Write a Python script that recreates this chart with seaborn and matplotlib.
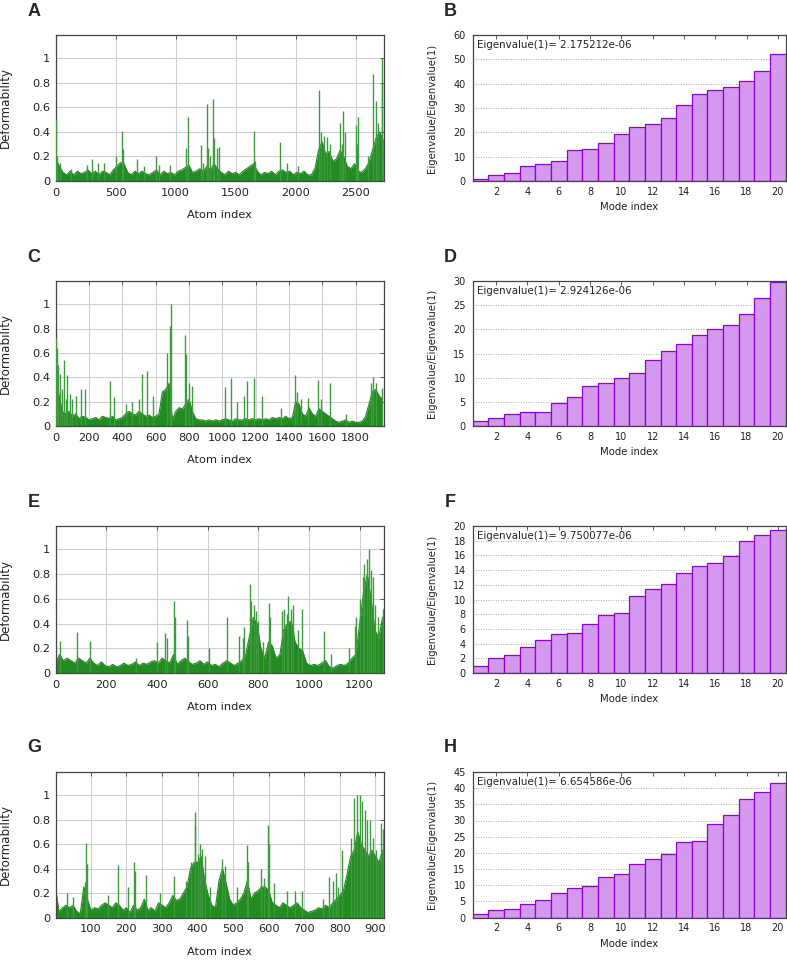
import numpy as np
import matplotlib
matplotlib.use('Agg')
import matplotlib.pyplot as plt
import seaborn as sns

sns.set_theme(style='white')
plt.rcParams['font.family'] = ['DejaVu Sans']

GREEN = '#228B22'
SPIKE = '#3f9a3f'
FILL = '#d499ee'
EDGE = '#9400d3'
FRAME = '#444444'

# ---- deformability (baseline read every `step` atoms + individual spikes) ----
a_step = 30
a_base = [0.18, 0.12, 0.07, 0.05, 0.08, 0.05, 0.08, 0.06, 0.07, 0.09,
          0.06, 0.08, 0.05, 0.08, 0.07, 0.05, 0.09, 0.12, 0.15, 0.14,
          0.07, 0.05, 0.08, 0.06, 0.08, 0.06, 0.05, 0.07, 0.09, 0.05,
          0.08, 0.06, 0.07, 0.05, 0.08, 0.09, 0.11, 0.13, 0.07, 0.08,
          0.10, 0.08, 0.12, 0.09, 0.14, 0.10, 0.07, 0.05, 0.08, 0.06,
          0.07, 0.05, 0.08, 0.10, 0.12, 0.14, 0.08, 0.05, 0.07, 0.06,
          0.08, 0.05, 0.08, 0.09, 0.07, 0.08, 0.05, 0.07, 0.06, 0.08,
          0.05, 0.05, 0.10, 0.25, 0.32, 0.22, 0.24, 0.16, 0.18, 0.25,
          0.20, 0.12, 0.10, 0.14, 0.08, 0.07, 0.10, 0.15, 0.25, 0.35,
          0.40, 0.33]
a_px = [3, 15, 40, 130, 265, 300, 350, 405, 500, 553, 560, 680, 735, 835, 860,
        950, 1090, 1104, 1210, 1230, 1262, 1270, 1290, 1312, 1320, 1345, 1360,
        1650, 1660, 1868, 1930, 2020, 2195, 2215, 2235, 2262, 2290, 2370, 2385,
        2398, 2410, 2500, 2510, 2518, 2600, 2645, 2670, 2690, 2716, 2722]
a_py = [0.50, 0.20, 0.15, 0.10, 0.13, 0.18, 0.15, 0.15, 0.20, 0.41, 0.26, 0.18,
        0.12, 0.20, 0.13, 0.13, 0.27, 0.52, 0.29, 0.15, 0.63, 0.27, 0.20, 0.67,
        0.35, 0.27, 0.28, 0.41, 0.16, 0.32, 0.15, 0.12, 0.74, 0.40, 0.37, 0.36,
        0.30, 0.47, 0.30, 0.57, 0.40, 0.46, 0.30, 0.52, 0.20, 0.87, 0.65, 0.47,
        1.00, 0.80]

c_step = 20
c_base = [0.35, 0.25, 0.12, 0.10, 0.12, 0.08, 0.10, 0.06, 0.08, 0.07,
          0.05, 0.06, 0.07, 0.05, 0.08, 0.07, 0.06, 0.08, 0.05, 0.06,
          0.07, 0.10, 0.12, 0.10, 0.09, 0.12, 0.10, 0.08, 0.09, 0.07,
          0.08, 0.10, 0.28, 0.30, 0.35, 0.05, 0.12, 0.15, 0.14, 0.18,
          0.22, 0.12, 0.06, 0.05, 0.05, 0.04, 0.05, 0.04, 0.05, 0.04,
          0.05, 0.06, 0.05, 0.04, 0.06, 0.05, 0.05, 0.06, 0.05, 0.06,
          0.05, 0.06, 0.05, 0.06, 0.05, 0.07, 0.06, 0.07, 0.06, 0.08,
          0.06, 0.07, 0.20, 0.18, 0.10, 0.08, 0.15, 0.10, 0.08, 0.14,
          0.12, 0.10, 0.08, 0.06, 0.04, 0.03, 0.04, 0.05, 0.03, 0.04,
          0.03, 0.03, 0.04, 0.08, 0.18, 0.28, 0.30, 0.25, 0.22]
c_px = [2, 8, 14, 24, 35, 50, 60, 70, 85, 100, 120, 150, 176, 324, 350, 420,
        460, 500, 520, 545, 586, 666, 684, 692, 776, 780, 800, 816, 1018, 1050,
        1086, 1130, 1150, 1190, 1240, 1350, 1434, 1450, 1470, 1516, 1574, 1590,
        1644, 1740, 1890, 1906, 1920, 1960]
c_py = [0.72, 0.64, 0.50, 0.43, 0.30, 0.54, 0.22, 0.42, 0.26, 0.22, 0.25,
        0.30, 0.30, 0.37, 0.24, 0.18, 0.20, 0.22, 0.43, 0.45, 0.25, 0.60, 0.82,
        1.00, 0.75, 0.59, 0.35, 0.33, 0.32, 0.39, 0.20, 0.25, 0.37, 0.39, 0.25,
        0.15, 0.42, 0.28, 0.22, 0.23, 0.38, 0.22, 0.35, 0.10, 0.35, 0.40, 0.35,
        0.31]

e_step = 15
e_base = [0.08, 0.15, 0.10, 0.12, 0.10, 0.08, 0.12, 0.10, 0.08, 0.12,
          0.08, 0.06, 0.09, 0.06, 0.05, 0.07, 0.05, 0.06, 0.08, 0.06,
          0.07, 0.09, 0.06, 0.08, 0.07, 0.09, 0.10, 0.08, 0.12, 0.10,
          0.08, 0.15, 0.07, 0.10, 0.12, 0.09, 0.07, 0.08, 0.10, 0.07,
          0.09, 0.06, 0.07, 0.05, 0.08, 0.10, 0.08, 0.06, 0.08, 0.10,
          0.15, 0.30, 0.45, 0.40, 0.20, 0.12, 0.25, 0.22, 0.12, 0.15,
          0.35, 0.40, 0.42, 0.25, 0.20, 0.18, 0.08, 0.06, 0.07, 0.06,
          0.08, 0.10, 0.05, 0.04, 0.06, 0.07, 0.06, 0.08, 0.12, 0.15,
          0.40, 0.65, 0.80, 0.60, 0.35, 0.28, 0.45]
e_px = [18, 84, 137, 317, 400, 433, 440, 468, 471, 518, 521, 607, 675, 725,
        738, 743, 767, 771, 782, 791, 800, 820, 841, 847, 892, 903, 912, 918,
        929, 935, 955, 971, 1061, 1087, 1158, 1182, 1186, 1203, 1212, 1218,
        1228, 1236, 1245, 1252, 1261, 1271, 1291, 1295]
e_py = [0.26, 0.33, 0.26, 0.12, 0.25, 0.32, 0.28, 0.58, 0.45, 0.43, 0.30,
        0.20, 0.45, 0.30, 0.28, 0.37, 0.72, 0.58, 0.55, 0.50, 0.42, 0.25, 0.57,
        0.45, 0.50, 0.52, 0.48, 0.62, 0.52, 0.55, 0.35, 0.52, 0.34, 0.15, 0.20,
        0.38, 0.45, 0.60, 0.78, 0.88, 0.92, 1.00, 0.83, 0.78, 0.55, 0.45, 0.52,
        0.53]

g_step = 10
g_base = [0.25, 0.05, 0.08, 0.10, 0.08, 0.10, 0.05, 0.03, 0.25, 0.15,
          0.06, 0.08, 0.07, 0.10, 0.12, 0.10, 0.08, 0.12, 0.10, 0.06,
          0.08, 0.04, 0.10, 0.06, 0.08, 0.15, 0.06, 0.08, 0.05, 0.12,
          0.10, 0.08, 0.12, 0.18, 0.14, 0.15, 0.20, 0.25, 0.40, 0.45,
          0.45, 0.50, 0.30, 0.18, 0.10, 0.08, 0.30, 0.40, 0.28, 0.15,
          0.10, 0.12, 0.15, 0.20, 0.30, 0.15, 0.20, 0.22, 0.25, 0.25,
          0.22, 0.12, 0.10, 0.08, 0.12, 0.10, 0.08, 0.10, 0.12, 0.08,
          0.06, 0.04, 0.05, 0.06, 0.08, 0.07, 0.10, 0.08, 0.12, 0.15,
          0.18, 0.22, 0.35, 0.50, 0.55, 0.70, 0.60, 0.55, 0.50, 0.55,
          0.50, 0.45, 0.55]
g_px = [33, 49, 83, 87, 89, 147, 175, 205, 221, 223, 254, 294, 335, 368, 380,
        392, 394, 401, 408, 413, 422, 436, 469, 476, 511, 539, 542, 577, 586,
        598, 601, 614, 651, 675, 693, 752, 769, 780, 790, 796, 806, 832, 841,
        848, 857, 862, 871, 876, 885, 894, 902, 908, 916, 921]
g_py = [0.20, 0.17, 0.29, 0.61, 0.44, 0.18, 0.43, 0.25, 0.45, 0.38, 0.35,
        0.20, 0.34, 0.30, 0.45, 0.86, 0.75, 0.52, 0.60, 0.56, 0.50, 0.25, 0.48,
        0.42, 0.25, 0.59, 0.45, 0.40, 0.32, 0.76, 0.60, 0.28, 0.22, 0.22, 0.22,
        0.15, 0.33, 0.30, 0.36, 0.25, 0.55, 0.65, 0.98, 1.00, 1.00, 0.95, 0.88,
        0.80, 0.80, 0.65, 0.55, 0.45, 0.77, 0.72]

# ---- eigenvalue ratios, modes 1..20 ----
modes = list(range(1, 21))
eig_b = [1.0, 2.3, 3.2, 6.2, 7.0, 8.1, 12.7, 13.1, 15.7, 19.4,
         22.3, 23.5, 26.0, 31.2, 35.8, 37.4, 38.7, 41.1, 45.0, 52.3]
eig_d = [1.0, 1.6, 2.4, 2.8, 3.0, 4.7, 6.1, 8.3, 8.8, 10.0,
         10.9, 13.6, 15.6, 16.9, 18.9, 20.1, 20.8, 23.1, 26.4, 29.7]
eig_f = [1.0, 2.1, 2.5, 3.5, 4.5, 5.3, 5.5, 6.7, 7.9, 8.2,
         10.5, 11.4, 12.1, 13.65, 14.5, 14.9, 15.9, 17.9, 18.8, 19.45]
eig_h = [1.0, 2.3, 2.7, 4.2, 5.5, 7.7, 9.2, 9.8, 12.6, 13.5,
         16.6, 18.2, 19.75, 23.2, 23.8, 28.9, 31.6, 36.8, 38.7, 41.6]
eig1_text = ['2.175212e-06', '2.924126e-06', '9.750077e-06', '6.654586e-06']

W, H = 787, 961
fig = plt.figure(figsize=(W / 100, H / 100), dpi=100)

row_top = [35, 281, 526, 772]
row_bot = [181, 426, 673, 917.5]


def frame(ax):
    for s in ax.spines.values():
        s.set_color(FRAME)
        s.set_linewidth(0.9)


def deform(ax, step, base, px, py, xmin, xmax, xticks):
    xb = np.arange(len(base)) * step
    ax.fill_between(xb, 0, base, color=GREEN, lw=0, zorder=2)
    sns.lineplot(x=xb, y=base, ax=ax, color=GREEN, lw=0.8, zorder=2)
    ax.vlines(px, 0, py, color=SPIKE, lw=1.0, zorder=3)
    ax.set_xlim(xmin, xmax)
    ax.set_ylim(0, 1.19)
    ax.set_xticks(xticks)
    ax.set_yticks([0, 0.2, 0.4, 0.6, 0.8, 1])
    ax.set_yticklabels(['0', '0.2', '0.4', '0.6', '0.8', '1'])
    ax.grid(True, color='#cfcfcf', lw=0.8)
    ax.set_axisbelow(True)
    ax.tick_params(direction='in', top=True, right=True, length=3, width=0.6,
                   color=FRAME, labelsize=8.2, colors='#222222')
    ax.tick_params(axis='x', pad=5)
    ax.tick_params(axis='y', pad=4)
    ax.set_xlabel('Atom index', fontsize=8.2, color='#222222')
    ax.set_ylabel('Deformability', fontsize=8.6, color='#222222')
    ax.yaxis.set_label_coords(-0.134, 0.5)
    ax.xaxis.set_label_coords(0.5, -0.2)
    frame(ax)


def eigen(ax, vals, ymax, ystep, txt):
    sns.barplot(x=modes, y=vals, ax=ax, native_scale=True, width=1.0,
                color=FILL, saturation=1, edgecolor=EDGE, linewidth=0.9,
                errorbar=None, zorder=2)
    ax.set_xlim(0.5, 20.5)
    ax.set_ylim(0, ymax)
    ax.set_xticks(range(2, 21, 2))
    ax.set_xticklabels([str(v) for v in range(2, 21, 2)])
    ax.set_yticks(np.arange(0, ymax + 0.01, ystep))
    ax.set_yticklabels([f'{v:g}' for v in np.arange(0, ymax + 0.01, ystep)])
    ax.yaxis.grid(True, color='#8c8c8c', lw=0.6, linestyle=(0, (1, 2)))
    ax.xaxis.grid(False)
    ax.set_axisbelow(True)
    ax.tick_params(direction='in', top=True, right=True, length=3, width=0.6,
                   color=FRAME, labelsize=7, colors='#222222')
    ax.tick_params(axis='x', pad=4)
    ax.tick_params(axis='y', pad=5)
    ax.set_xlabel('Mode index', fontsize=7.3, color='#222222')
    ax.set_ylabel('Eigenvalue/Eigenvalue(1)', fontsize=7.3, color='#222222')
    ax.yaxis.set_label_coords(-0.114, 0.5)
    ax.xaxis.set_label_coords(0.5, -0.145)
    ax.text(0.014, 0.93, f'Eigenvalue(1)= {txt}', transform=ax.transAxes,
            ha='left', va='center', fontsize=7.4, color='#222222')
    frame(ax)


def place(x0, x1, top, bot):
    return fig.add_axes([x0 / W, 1 - bot / H, (x1 - x0) / W, (bot - top) / H])


deform_sets = [
    (a_step, a_base, a_px, a_py, 0, 2736, range(0, 2501, 500)),
    (c_step, c_base, c_px, c_py, 0, 1970, range(0, 1801, 200)),
    (e_step, e_base, e_px, e_py, 0, 1296, range(0, 1201, 200)),
    (g_step, g_base, g_px, g_py, 1, 924, range(100, 901, 100)),
]
eigen_sets = [(eig_b, 60, 10), (eig_d, 30, 5), (eig_f, 20, 2), (eig_h, 45, 5)]
letters = [('A', 'B'), ('C', 'D'), ('E', 'F'), ('G', 'H')]

for i in range(4):
    axl = place(55.7, 384, row_top[i], row_bot[i])
    deform(axl, *deform_sets[i])
    axr = place(472.7, 785.7, row_top[i], row_bot[i])
    eigen(axr, *eigen_sets[i], eig1_text[i])
    ly = row_top[i] - 24
    fig.text(34 / W, 1 - ly / H, letters[i][0], fontsize=13, fontweight='bold',
             family='Liberation Sans', ha='center', va='center')
    fig.text(450 / W, 1 - ly / H, letters[i][1], fontsize=13, fontweight='bold',
             family='Liberation Sans', ha='center', va='center')

fig.savefig('out.png', dpi=100)
